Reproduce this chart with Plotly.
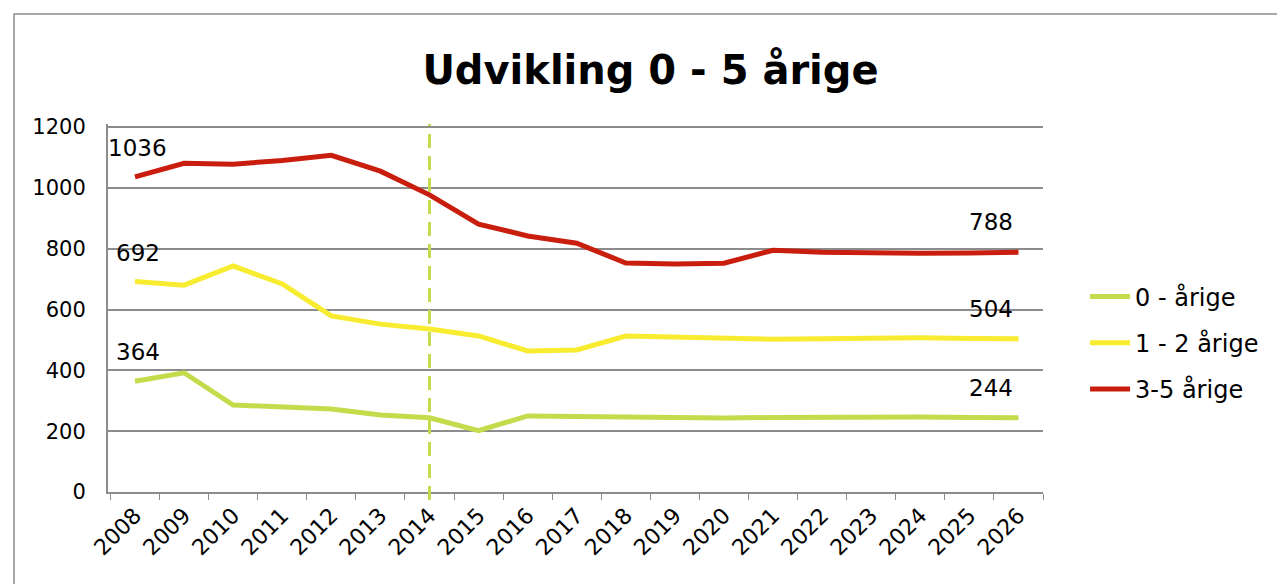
import plotly.graph_objects as go

years = [str(y) for y in range(2008, 2027)]
series_names = ["0 - årige", "1 - 2 årige", "3-5 årige"]
age_0 = [364, 392, 286, 279, 273, 253, 244, 202, 250, 248, 246, 245, 243, 245, 247, 247, 247, 245, 244]
age_1_2 = [692, 680, 743, 684, 579, 552, 536, 513, 464, 467, 513, 508, 505, 502, 504, 506, 507, 505, 504]
age_3_5 = [1036, 1081, 1078, 1090, 1107, 1055, 977, 881, 842, 818, 753, 750, 752, 795, 788, 785, 785, 786, 788]
colors = ["#C5DB4C", "#F7EC2F", "#C91E0E"]
forecast_start = "2014"
y_ticks = [0, 200, 400, 600, 800, 1000, 1200]

FONT = "DejaVu Sans"

fig = go.Figure()
for i, (name, vals, col) in enumerate(zip(series_names, [age_0, age_1_2, age_3_5], colors)):
    fig.add_trace(go.Scatter(x=years, y=vals, name=name, mode="lines", legendgroup=f"g{i}",
                             line=dict(color=col, width=5)))

annotations = []
for vals in [age_0, age_1_2, age_3_5]:
    annotations.append(dict(x=0, y=vals[0], xref="x", yref="y", text=str(vals[0]),
                            showarrow=False, yshift=29, xshift=3,
                            font=dict(size=23, color="black", family=FONT)))
    annotations.append(dict(x=len(years) - 1, y=vals[-1], xref="x", yref="y", text=str(vals[-1]),
                            showarrow=False, yshift=30, xshift=-27,
                            font=dict(size=23, color="black", family=FONT)))

shapes = [
    dict(type="line", xref="x", yref="paper", x0=years.index(forecast_start),
         x1=years.index(forecast_start), y0=-0.022, y1=1,
         line=dict(color=colors[0], width=3, dash="14px,8px")),
    dict(type="rect", xref="paper", yref="paper", x0=-0.1005, x1=1.4, y0=-0.5, y1=1.299,
         line=dict(color="#8C8C8C", width=1.5)),
]

fig.update_layout(
    width=1285, height=584,
    margin=dict(l=100, r=250, t=116, b=100),
    paper_bgcolor="white", plot_bgcolor="white",
    font=dict(family=FONT, color="black", size=20),
    title=dict(text="<b>Udvikling 0 - 5 årige</b>", x=0.5, xref="container",
               y=1 - 62 / 584, yanchor="middle", xanchor="center",
               font=dict(size=40, family=FONT, color="black")),
    legend=dict(x=1.045, y=0.405, xanchor="left", yanchor="middle",
                font=dict(size=24, family=FONT), tracegroupgap=12,
                itemwidth=40, bgcolor="rgba(0,0,0,0)"),
    showlegend=True,
    annotations=annotations,
    shapes=shapes,
)
fig.update_xaxes(type="category", range=[-0.55, 18.5], showgrid=False,
                 showline=True, linecolor="#8C8C8C", linewidth=2,
                 ticks="outside", tickson="boundaries", ticklen=6, tickcolor="#8C8C8C",
                 tickangle=-45, tickfont=dict(size=22, family=FONT))
fig.update_yaxes(range=[0, 1210], tickvals=y_ticks, showgrid=True, gridcolor="#8C8C8C",
                 gridwidth=1.5, showline=True, linecolor="#8C8C8C", linewidth=2,
                 zeroline=False, ticks="", ticklabelstandoff=16,
                 tickfont=dict(size=21, family=FONT))

fig.write_html("out.html")
